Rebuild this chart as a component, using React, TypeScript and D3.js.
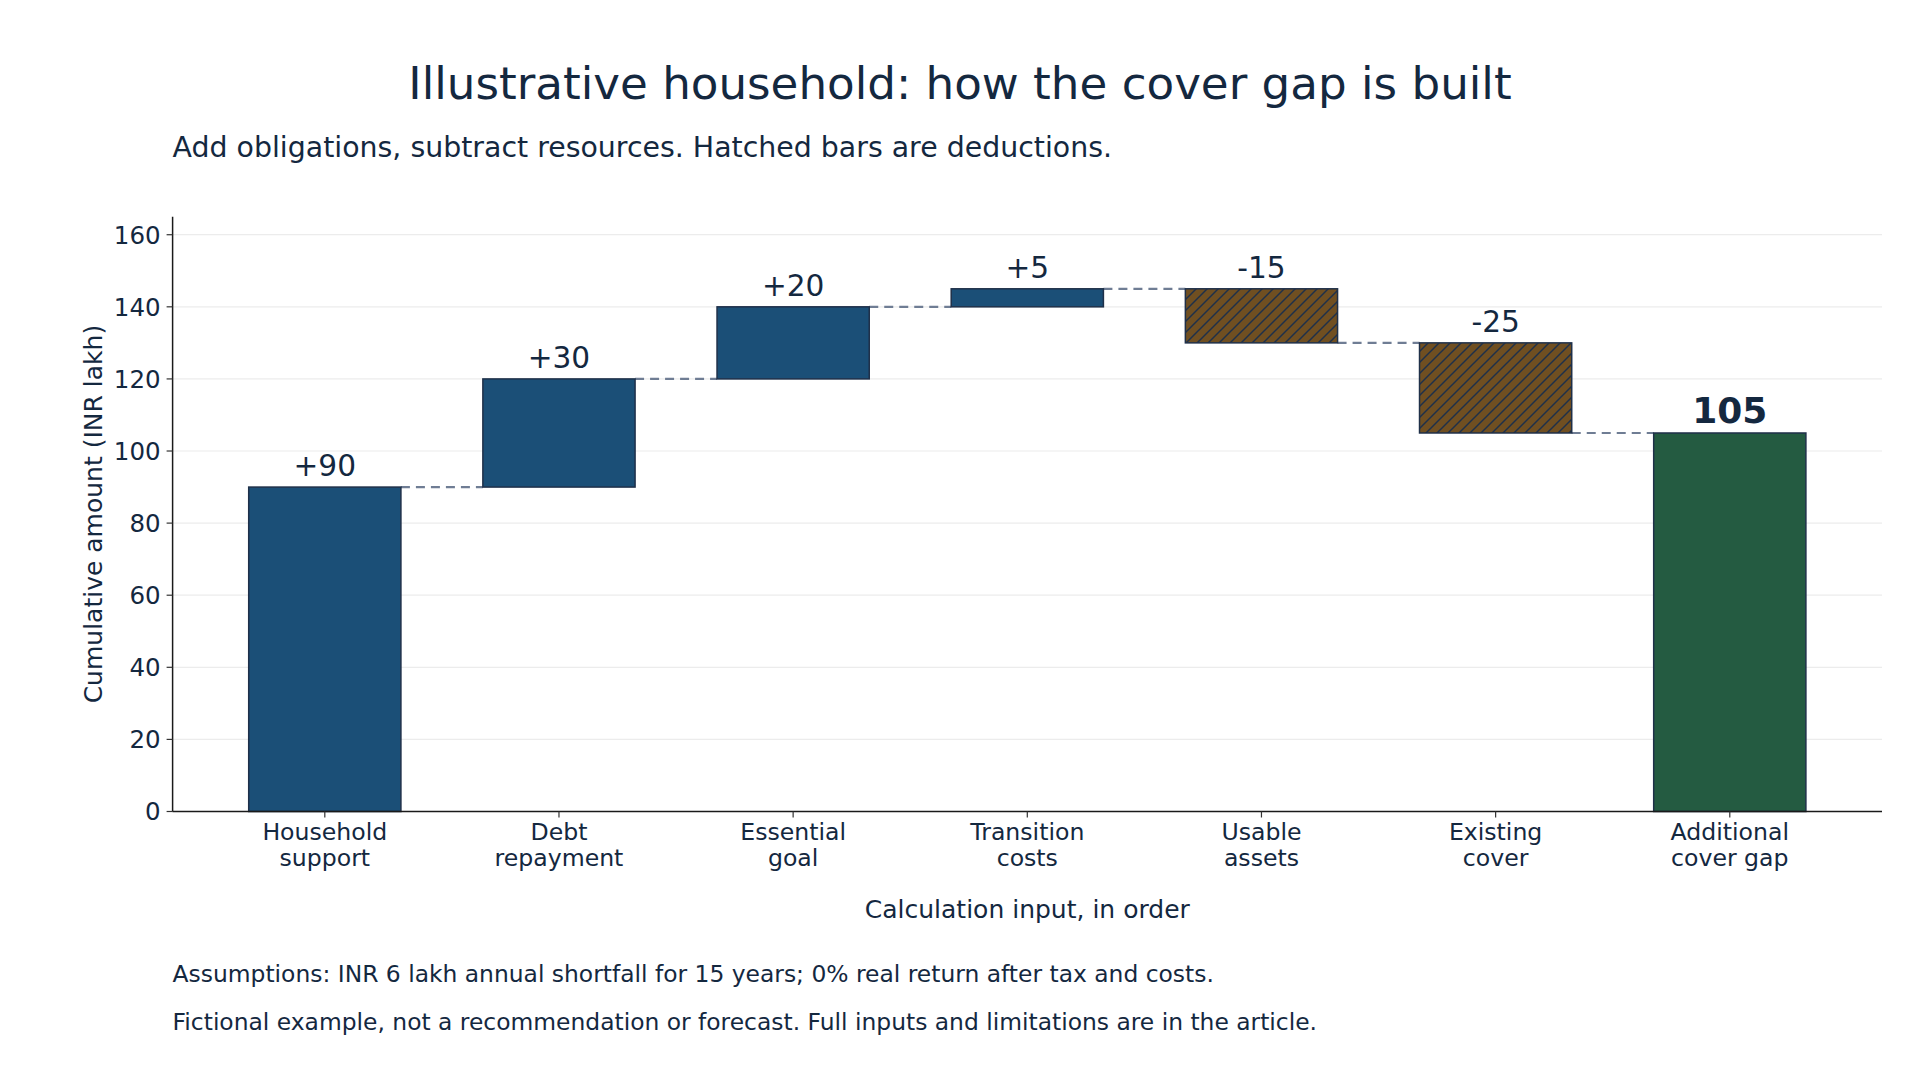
import React from 'react';
import * as d3 from 'd3';

// waterfall inputs, in order (INR lakh)
const categories = [
  ['Household', 'support'],
  ['Debt', 'repayment'],
  ['Essential', 'goal'],
  ['Transition', 'costs'],
  ['Usable', 'assets'],
  ['Existing', 'cover'],
  ['Additional', 'cover gap'],
];
const deltas = [90, 30, 20, 5, -15, -25];
const deltaLabels = ['+90', '+30', '+20', '+5', '-15', '-25'];
const totalLabel = '105';
const yTicks = [0, 20, 40, 60, 80, 100, 120, 140, 160];

const W = 1920;
const H = 1080;
const TEXT = '#14283f';
const EDGE = '#1f3049';
const BLUE = '#1b4f77';
const BROWN = '#704f21';
const GREEN = '#245b41';

export default function App() {
  const x = d3.scaleLinear().domain([-0.65, 6.65]).range([172.6, 1882]);
  const y = d3.scaleLinear().domain([0, 165]).range([811.5, 216.7]);
  const barW = x(0.65) - x(0);

  // running totals
  const steps = deltas.map((d, i) => {
    const start = d3.sum(deltas.slice(0, i));
    return { i, d, start, end: start + d, label: deltaLabels[i] };
  });
  const total = d3.sum(deltas);

  const [x0, x1] = x.range();
  const [yBottom, yTop] = y.range();

  return (
    <svg
      width={W}
      height={H}
      style={{ position: 'absolute', left: 0, top: 0, background: '#fff' }}
      fontFamily="'DejaVu Sans', sans-serif"
    >
      <defs>
        <pattern id="hatch" patternUnits="userSpaceOnUse" width={11} height={11}>
          <rect width={11} height={11} fill={BROWN} />
          <path
            d="M0,11 L11,0 M-2.75,2.75 L2.75,-2.75 M8.25,13.75 L13.75,8.25"
            stroke={EDGE}
            strokeWidth={1.5}
          />
        </pattern>
      </defs>

      {/* title and subtitle */}
      <text x={960} y={99} textAnchor="middle" fontSize={45.2} fill={TEXT}>
        Illustrative household: how the cover gap is built
      </text>
      <text x={172.6} y={157} fontSize={28.4} fill={TEXT}>
        Add obligations, subtract resources. Hatched bars are deductions.
      </text>

      {/* grid */}
      {yTicks.map((t) => (
        <line key={'g' + t} x1={x0} x2={x1} y1={y(t)} y2={y(t)} stroke="#ececec" strokeWidth={1.2} />
      ))}

      {/* connectors */}
      {steps.map((s) => (
        <line
          key={'c' + s.i}
          x1={x(s.i) + barW / 2}
          x2={x(s.i + 1) - barW / 2}
          y1={y(s.end)}
          y2={y(s.end)}
          stroke="#6f7d94"
          strokeWidth={2.2}
          strokeDasharray="9,6"
        />
      ))}

      {/* step bars */}
      {steps.map((s) => {
        const top = Math.max(s.start, s.end);
        const bot = Math.min(s.start, s.end);
        return (
          <g key={'b' + s.i}>
            <rect
              x={x(s.i) - barW / 2}
              y={y(top)}
              width={barW}
              height={y(bot) - y(top)}
              fill={s.d < 0 ? 'url(#hatch)' : BLUE}
              stroke={EDGE}
              strokeWidth={1.5}
            />
            <text x={x(s.i)} y={y(top) - 11} textAnchor="middle" fontSize={29.6} fill={TEXT}>
              {s.label}
            </text>
          </g>
        );
      })}

      {/* total bar */}
      <rect
        x={x(6) - barW / 2}
        y={y(total)}
        width={barW}
        height={y(0) - y(total)}
        fill={GREEN}
        stroke={EDGE}
        strokeWidth={1.5}
      />
      <text x={x(6)} y={y(total) - 9.5} textAnchor="middle" fontSize={36} fontWeight="bold" fill={TEXT}>
        {totalLabel}
      </text>

      {/* y axis */}
      <line x1={x0} x2={x0} y1={yBottom} y2={yTop} stroke="#1a1a1a" strokeWidth={1.5} />
      {yTicks.map((t) => (
        <g key={'y' + t}>
          <line x1={x0 - 6} x2={x0} y1={y(t)} y2={y(t)} stroke="#333" strokeWidth={1.2} />
          <text x={x0 - 12} y={y(t)} dy="0.36em" textAnchor="end" fontSize={24.5} fill={TEXT}>
            {t}
          </text>
        </g>
      ))}
      <text
        transform={`translate(92.5,${(yBottom + yTop) / 2}) rotate(-90)`}
        dy="0.36em"
        textAnchor="middle"
        fontSize={25}
        fill={TEXT}
      >
        Cumulative amount (INR lakh)
      </text>

      {/* x axis */}
      <line x1={x0} x2={x1} y1={yBottom} y2={yBottom} stroke="#1a1a1a" strokeWidth={1.5} />
      {categories.map((c, i) => (
        <g key={'x' + i}>
          <line x1={x(i)} x2={x(i)} y1={yBottom} y2={yBottom + 6} stroke="#333" strokeWidth={1.2} />
          <text x={x(i)} y={840} textAnchor="middle" fontSize={23.6} fill={TEXT}>
            <tspan x={x(i)}>{c[0]}</tspan>
            <tspan x={x(i)} dy={25.5}>{c[1]}</tspan>
          </text>
        </g>
      ))}
      <text x={(x0 + x1) / 2} y={918} textAnchor="middle" fontSize={25} fill={TEXT}>
        Calculation input, in order
      </text>

      {/* notes */}
      <text x={172.6} y={982} fontSize={23.4} fill={TEXT}>
        Assumptions: INR 6 lakh annual shortfall for 15 years; 0% real return after tax and costs.
      </text>
      <text x={172.6} y={1030} fontSize={23.4} fill={TEXT}>
        Fictional example, not a recommendation or forecast. Full inputs and limitations are in the article.
      </text>
    </svg>
  );
}
